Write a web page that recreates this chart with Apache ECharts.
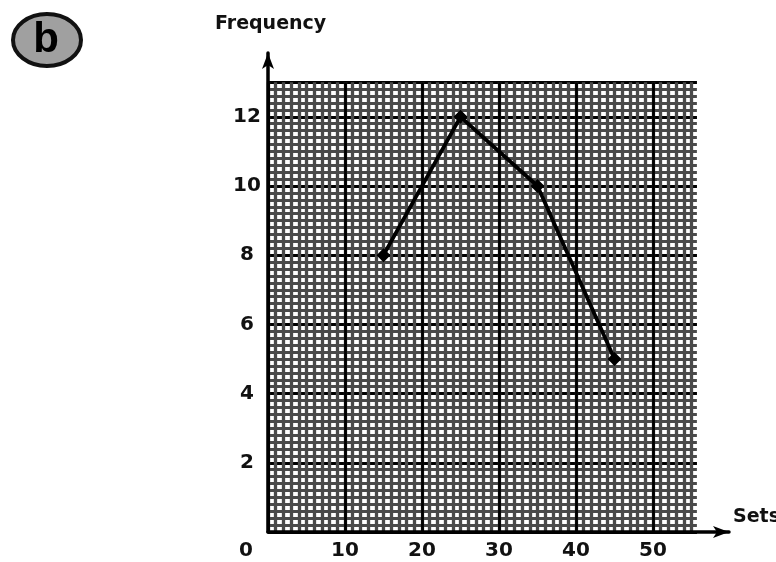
<!DOCTYPE html>
<html>
<head>
<meta charset="utf-8">
<script src="https://cdn.jsdelivr.net/npm/echarts@6/dist/echarts.min.js"></script>
<style>html,body{margin:0;padding:0;background:#fff}#c{width:776px;height:562px}</style>
</head>
<body>
<div id="c"></div>
<script>
// ---- data ----
const setsX = [15, 25, 35, 45];
const frequency = [8, 12, 10, 5];
const xTickLabels = [0, 10, 20, 30, 40, 50];
const yTickLabels = [2, 4, 6, 8, 10, 12];
const xAxisName = 'Sets';
const yAxisName = 'Frequency';
const panelLabel = 'b';

// ---- layout ----
const left = 268, bottom = 30;
const pxX = 7.7, pxY = 34.6;
const paperXMax = 55.7, paperYMax = 13;
const axisTop = 53, axisRightEnd = 729;
const W = 776, H = 562;
const axisYMax = (H - bottom - axisTop) / pxY;
const axisXMax = (axisRightEnd - left) / pxX;
const paperTop = H - bottom - paperYMax * pxY;
const paperRight = W - (left + paperXMax * pxX);

const chart = echarts.init(document.getElementById('c'), null, {renderer: 'canvas'});
const font = '"DejaVu Sans", sans-serif';
const hidden = {axisLine:{show:false}, axisTick:{show:false}, axisLabel:{show:false}};

chart.setOption({
  animation: false,
  backgroundColor: '#fff',
  grid: [
    {left: left, bottom: bottom, top: paperTop, right: paperRight, show:false},
    {left: left, bottom: bottom, top: axisTop, right: W - axisRightEnd}
  ],
  xAxis: [
    Object.assign({type:'value', gridIndex:0, min:0, max:paperXMax, interval:1,
      splitLine:{show:true, showMaxLine:false, lineStyle:{color:'#4a4a4a', width:3.3}}}, hidden),
    Object.assign({type:'value', gridIndex:0, min:0, max:paperXMax, interval:10,
      splitLine:{show:true, showMaxLine:false, lineStyle:{color:'#000', width:2.8}}}, hidden),
    {type:'value', gridIndex:1, min:0, max:axisXMax, interval:10,
      splitLine:{show:false},
      axisTick:{show:false},
      axisLine:{show:true, symbol:['none','arrow'], symbolSize:[9,16], lineStyle:{color:'#000', width:3.5}},
      axisLabel:{show:true, margin:9, color:'#111', fontFamily:font, fontWeight:'bold', fontSize:20,
        showMinLabel:true, showMaxLabel:false,
        formatter: v => {
          if (!xTickLabels.includes(v)) return '';
          return v === 0 ? '{o|' + v + '}' : String(v);
        },
        rich:{o:{padding:[0,44,0,0], color:'#111', fontFamily:font, fontWeight:'bold', fontSize:20}}
      }
    }
  ],
  yAxis: [
    Object.assign({type:'value', gridIndex:0, min:0, max:paperYMax, interval:0.2,
      splitLine:{show:true, lineStyle:{color:'#4a4a4a', width:3.0}}}, hidden),
    Object.assign({type:'value', gridIndex:0, min:0, max:paperYMax, interval:2,
      splitLine:{show:true, lineStyle:{color:'#000', width:2.8}}}, hidden),
    {type:'value', gridIndex:1, min:0, max:axisYMax, interval:2,
      splitLine:{show:false},
      axisTick:{show:false},
      axisLine:{show:true, symbol:['none','arrow'], symbolSize:[9,16], lineStyle:{color:'#000', width:3.5}},
      axisLabel:{show:true, margin:21, align:'center', color:'#111', fontFamily:font, fontWeight:'bold', fontSize:20,
        formatter: v => yTickLabels.includes(v) ? String(v) : ''}
    }
  ],
  series: [{
    type:'line', xAxisIndex:2, yAxisIndex:2,
    data: setsX.map((x, i) => [x, frequency[i]]),
    symbol:'diamond', symbolSize:14,
    lineStyle:{color:'#000', width:3.8},
    itemStyle:{color:'#000'},
    z: 10
  }],
  graphic: [
    {type:'text', left: 215, top: 15, style:{text: yAxisName, font:'bold 19px "DejaVu Sans"', fill:'#111'}},
    {type:'text', left: 733, top: 508, style:{text: xAxisName, font:'bold 19px "DejaVu Sans"', fill:'#111'}},
    {type:'ellipse', shape:{cx:47, cy:40, rx:34, ry:26}, style:{fill:'#a0a0a0', stroke:'#111', lineWidth:4}},
    {type:'text', x:46, y:40, style:{text: panelLabel, font:'bold 42px "Liberation Sans"', fill:'#000', align:'center', verticalAlign:'middle'}}
  ]
});
</script>
</body>
</html>
